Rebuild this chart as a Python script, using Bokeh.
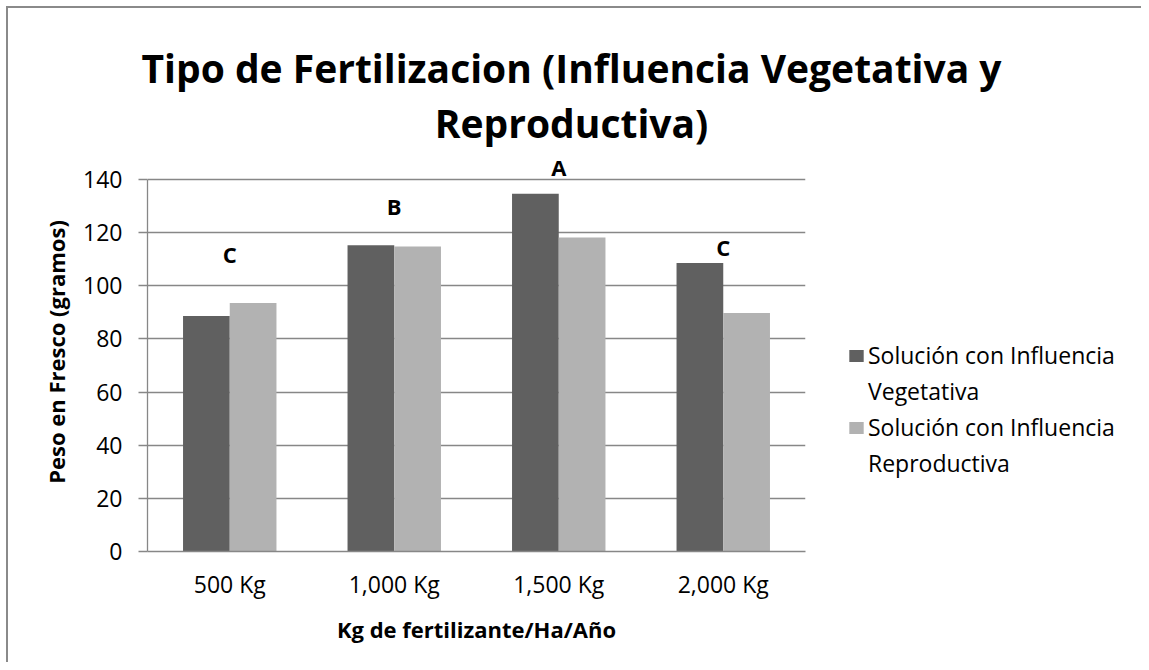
from bokeh.plotting import figure
from bokeh.models import (FactorRange, Range1d, FixedTicker, Legend, LegendItem,
                          LabelSet, Label, ColumnDataSource)
from bokeh.layouts import column, row
from bokeh.core.properties import value
from bokeh.transform import dodge
from bokeh.embed import file_html
from bokeh.resources import INLINE

# ---- data ----
categories = ["500 Kg", "1,000 Kg", "1,500 Kg", "2,000 Kg"]
vegetativa = [88.6, 115.3, 134.6, 108.6]
reproductiva = [93.5, 114.8, 118.2, 89.8]
letters = ["C", "B", "A", "C"]
letter_y = [112.0, 130.1, 144.8, 114.6]
y_ticks = [0, 20, 40, 60, 80, 100, 120, 140]
series_names = ["Solución con Influencia Vegetativa", "Solución con Influencia Reproductiva"]
title_lines = ["Tipo de Fertilizacion (Influencia Vegetativa y", "Reproductiva)"]
x_title = "Kg de fertilizante/Ha/Año"
y_title = "Peso en Fresco (gramos)"

DARK = "#606060"
LIGHT = "#b2b2b2"
GRID = "#878787"
FONT = "Open Sans"

W, H = 1141, 662
TH = 152                      # height of the title strip (= top of the plot frame)
MW = 840                      # width of the plot figure
FL, FR, FB = 147, 805, 551    # frame left / right / bottom in page px
Y_END = (FB - TH) * 140 / (FB - 179)   # keeps 140 at ~179px


def bare(fig):
    fig.outline_line_color = None
    fig.background_fill_alpha = 0
    fig.border_fill_alpha = 0
    return fig


# ---------------- title strip ----------------
tf = bare(figure(width=W, height=TH, x_range=Range1d(0, W), y_range=Range1d(TH, 0),
                 x_axis_type=None, y_axis_type=None, output_backend="svg",
                 toolbar_location=None, min_border=0))
for txt, yb in zip(title_lines, [67, 122]):
    tf.add_layout(Label(x=571, y=yb, text=txt, text_font=FONT,
                        text_font_size="39px", text_font_style="bold",
                        text_align="center", text_baseline="alphabetic",
                        text_color="black"))

# ---------------- main chart ----------------
src = ColumnDataSource(dict(cat=categories, veg=vegetativa, rep=reproductiva))
lab_src = ColumnDataSource(dict(cat=categories, y=letter_y, text=letters))

p = bare(figure(x_range=FactorRange(*categories), y_range=Range1d(0, Y_END),
                width=MW, height=H - TH, output_backend="svg", toolbar_location=None,
                min_border_left=FL, min_border_top=0, min_border_right=MW - FR,
                min_border_bottom=H - FB))

p.vbar(x=dodge("cat", -0.142, range=p.x_range), top="veg", width=0.284,
       source=src, fill_color=DARK, line_color=None)
p.vbar(x=dodge("cat", 0.142, range=p.x_range), top="rep", width=0.284,
       source=src, fill_color=LIGHT, line_color=None)

p.xgrid.grid_line_color = None
p.ygrid.grid_line_color = GRID
p.ygrid.grid_line_width = 1.3
p.ygrid.ticker = FixedTicker(ticks=y_ticks)

p.yaxis.ticker = FixedTicker(ticks=y_ticks)
p.yaxis.bounds = (0, 140)
p.yaxis.axis_line_color = GRID
p.yaxis.axis_line_width = 1.3
p.yaxis.major_tick_line_color = GRID
p.yaxis.major_tick_line_width = 1.3
p.yaxis.major_tick_out = 9
p.yaxis.major_tick_in = 0
p.yaxis.minor_tick_line_color = None
p.yaxis.major_label_text_font = FONT
p.yaxis.major_label_text_font_size = "23px"
p.yaxis.major_label_text_color = "black"
p.yaxis.major_label_standoff = 16
p.yaxis.axis_label = y_title
p.yaxis.axis_label_text_font = FONT
p.yaxis.axis_label_text_font_size = "22px"
p.yaxis.axis_label_text_font_style = "bold"
p.yaxis.axis_label_text_color = "black"
p.yaxis.axis_label_standoff = 9

p.xaxis.axis_line_color = GRID
p.xaxis.axis_line_width = 1.3
p.xaxis.major_tick_line_color = None
p.xaxis.major_tick_out = 0
p.xaxis.minor_tick_line_color = None
p.xaxis.major_label_text_font = FONT
p.xaxis.major_label_text_font_size = "23px"
p.xaxis.major_label_text_color = "black"
p.xaxis.major_label_standoff = 16
p.xaxis.axis_label = x_title
p.xaxis.axis_label_text_font = FONT
p.xaxis.axis_label_text_font_size = "22px"
p.xaxis.axis_label_text_font_style = "bold"
p.xaxis.axis_label_text_color = "black"
p.xaxis.axis_label_standoff = 11

p.add_layout(LabelSet(x="cat", y="y", text="text", source=lab_src,
                      text_font=value(FONT), text_font_size="22px",
                      text_font_style="bold", text_align="center",
                      text_baseline="middle", text_color="black"))

# ---------------- legend strip ----------------
lf = bare(figure(width=W - MW, height=H - TH, x_range=Range1d(0, 1), y_range=Range1d(0, 1),
                 x_axis_type=None, y_axis_type=None, output_backend="svg",
                 toolbar_location=None, min_border=0))
# zero-size proxies: they only lend their colours to the legend swatches
g1 = lf.vbar(x=[0.5], top=[0], bottom=[0], width=0, fill_color=DARK, line_color=None)
g2 = lf.vbar(x=[0.5], top=[0], bottom=[0], width=0, fill_color=LIGHT, line_color=None)
gb = lf.vbar(x=[0.5], top=[0], bottom=[0], width=0, fill_alpha=0, line_alpha=0)

veg_words = series_names[0].rsplit(" ", 1)
rep_words = series_names[1].rsplit(" ", 1)
legend = Legend(items=[
    LegendItem(label=veg_words[0], renderers=[g1]),
    LegendItem(label=veg_words[1], renderers=[gb]),
    LegendItem(label=rep_words[0], renderers=[g2]),
    LegendItem(label=rep_words[1], renderers=[gb]),
], location=(7, 72))
legend.label_text_font = FONT
legend.label_text_font_size = "23px"
legend.label_text_color = "black"
legend.label_standoff = 3
legend.glyph_width = 18
legend.glyph_height = 15
legend.label_height = 20
legend.spacing = 4
legend.padding = 0
legend.margin = 0
legend.border_line_color = None
legend.background_fill_alpha = 0
lf.add_layout(legend)

layout = column(tf, row(p, lf, spacing=0), spacing=0)
layout.styles = {"background": "linear-gradient(#8a8a8a,#8a8a8a) 6px 6px / 2px 100% no-repeat, "
                               "linear-gradient(#8a8a8a,#8a8a8a) 6px 6px / 100% 2px no-repeat, white"}

open("out.html", "w").write(file_html(layout, INLINE))
